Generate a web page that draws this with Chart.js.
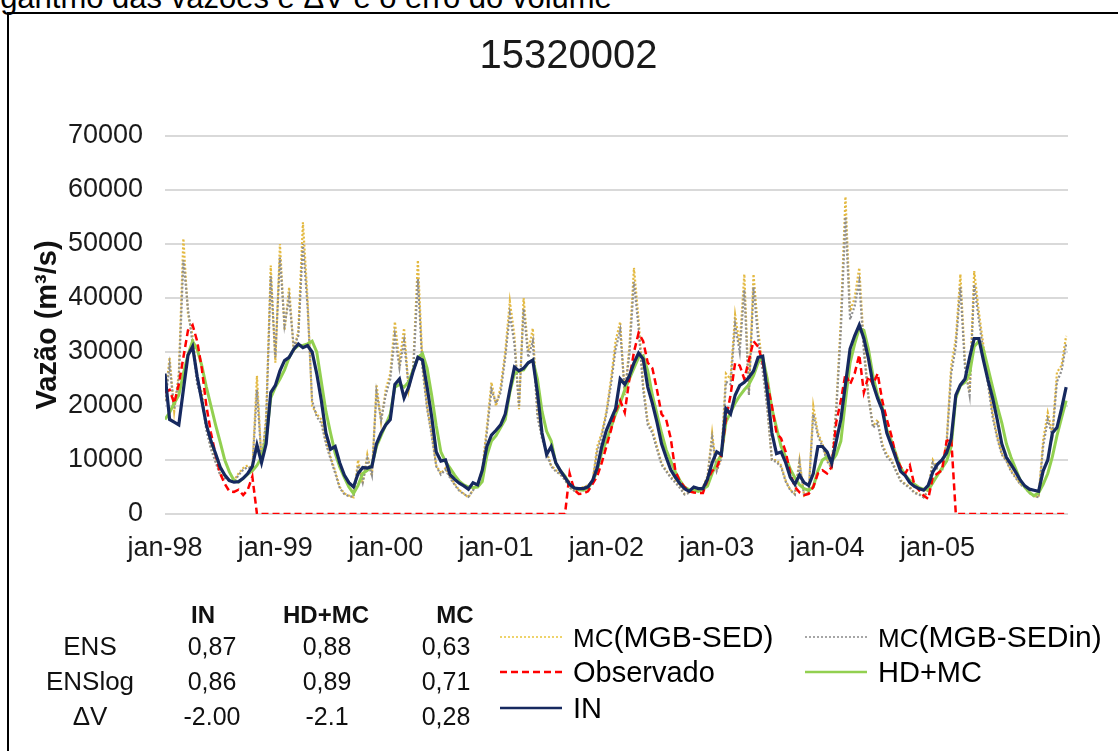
<!DOCTYPE html>
<html>
<head>
<meta charset="utf-8">
<script src="https://cdn.jsdelivr.net/npm/chart.js@4.4.1/dist/chart.umd.min.js"></script>
<style>
  html, body { margin: 0; padding: 0; background: #fff; overflow: hidden; }
  body { width: 1118px; height: 751px; position: relative; font-family: 'Liberation Sans', Arial, sans-serif; color: #111; }
  #c { position: absolute; left: 0; top: 0; }
  .frame { position: absolute; left: 7px; top: 12px; width: 1200px; height: 900px; border-left: 2px solid #000; border-top: 2px solid #000; }
  .caption { position: absolute; left: -24px; top: -18px; font-size: 31px; line-height: 1; white-space: nowrap; color: #000; }
  .t { position: absolute; transform: translate(-50%, -50%); line-height: 1; white-space: nowrap; }
  .lg { position: absolute; transform: translateY(-50%); line-height: 1; white-space: nowrap; font-size: 29px; color: #000; }
  .sw { position: absolute; }
</style>
</head>
<body>
<div class="caption">logaritmo das vazões e ΔV e o erro do volume</div>
<div class="frame"></div>
<canvas id="c" width="1118" height="751"></canvas>
<div id="overlay"></div>
<script>
// ---------------- DATA ----------------
const chartTitle = '15320002';
const yAxisTitle = 'Vazão (m³/s)';
// time step of the series: half a month, starting jan-1998
const stepMonths = 0.5;
const xTickMonths = [0, 12, 24, 36, 48, 60, 72, 84];
const xTickLabels = ['jan-98', 'jan-99', 'jan-00', 'jan-01', 'jan-02', 'jan-03', 'jan-04', 'jan-05'];

const mcSED = [
  21000, 29000, 19000, 26000, 51000, 37000, 33000, 25000, 22500, 16000,
  12500, 10000, 7500, 6900, 6300, 6250, 7500, 8500, 9000, 8500,
  25600, 9500, 18000, 46000, 28000, 50000, 34000, 42000, 30000, 34000,
  54000, 40000, 20000, 18500, 17500, 13500, 10600, 8000, 5000, 3800,
  3400, 3100, 10000, 5600, 11000, 7000, 24000, 17000, 23000, 26000,
  35600, 28000, 34400, 23000, 27500, 47000, 28000, 20000, 15000, 9000,
  7500, 8500, 6900, 5600, 4400, 3750, 3100, 4500, 5600, 8100,
  16000, 24400, 20000, 23500, 30000, 39400, 33000, 19400, 40000, 30000,
  34400, 18750, 14500, 11500, 9000, 8100, 7500, 6500, 5000, 4400,
  4700, 5000, 5300, 6200, 12500, 15000, 19000, 25000, 32000, 35600,
  22000, 31000, 45600, 36000, 24000, 17000, 15600, 12500, 9400, 8100,
  6900, 6000, 5000, 3700, 4000, 4700, 4400, 5000, 7000, 15000,
  8100, 10600, 26000, 25000, 36900, 31250, 44400, 22500, 44400, 34000,
  27500, 20000, 10000, 10000, 9000, 6200, 4500, 3700, 10000, 3400,
  4000, 20000, 15000, 13000, 10000, 8700, 20000, 36000, 58750, 37500,
  40000, 45600, 31250, 22000, 16250, 17500, 13000, 11000, 10000, 8100,
  6250, 5600, 5000, 4000, 3750, 3100, 4400, 10000, 8500, 8100,
  13500, 27500, 32500, 44400, 28000, 22500, 45000, 37500, 31250, 25000,
  18750, 14400, 11250, 10000, 8100, 6900, 5600, 5000, 4000, 3400,
  3100, 13750, 18750, 15000, 26250, 27500, 33000
];
const mcSEDin = [
  20500, 27500, 19500, 25000, 47000, 38000, 31500, 24000, 21500, 15500,
  12000, 9600, 7200, 6600, 6100, 6000, 7200, 8200, 8700, 8300,
  23000, 9800, 17000, 44000, 29000, 47500, 35000, 40000, 31000, 33000,
  50000, 38500, 21000, 18000, 16800, 13000, 10200, 7600, 4800, 3700,
  3300, 3200, 9000, 5800, 10200, 7200, 22500, 17500, 22000, 25000,
  33000, 27000, 32000, 23500, 26500, 43500, 27000, 19500, 14500, 8800,
  7300, 8200, 6700, 5400, 4300, 3700, 3200, 4400, 5500, 7800,
  15000, 23000, 20500, 22500, 29000, 37000, 31500, 20000, 38000, 29000,
  32000, 18000, 14000, 11200, 8800, 7900, 7300, 6300, 4900, 4300,
  4600, 4900, 5200, 6000, 11500, 14500, 18500, 24000, 30500, 34000,
  22500, 29500, 43000, 34500, 23000, 16500, 15000, 12000, 9100, 7900,
  6700, 5800, 4800, 3600, 3900, 4500, 4300, 4800, 6700, 14000,
  8000, 10200, 24500, 24000, 35000, 30000, 41500, 22000, 42000, 32500,
  26500, 19500, 10000, 9600, 8700, 6000, 4400, 3600, 9500, 3400,
  4000, 18500, 14500, 12500, 9800, 8500, 19000, 34000, 55000, 36000,
  38500, 43000, 30000, 21500, 16000, 16800, 12500, 10600, 9700, 7900,
  6100, 5400, 4800, 3900, 3600, 3100, 4300, 9500, 8300, 7900,
  13000, 26000, 31000, 42000, 27000, 22000, 42500, 36000, 30000, 24000,
  18000, 14000, 11000, 9800, 7900, 6700, 5500, 4900, 3900, 3300,
  3100, 12500, 17500, 14500, 24500, 26500, 31500
];
const observado = [
  22500, 23000, 20500, 24000, 29000, 34000, 35000, 32000, 27000, 20000,
  15000, 11000, 7500, 5600, 4200, 4100, 4500, 3500, 4500, 6900,
  0, 0, 0, 0, 0, 0, 0, 0, 0, 0,
  0, 0, 0, 0, 0, 0, 0, 0, 0, 0,
  0, 0, 0, 0, 0, 0, 0, 0, 0, 0,
  0, 0, 0, 0, 0, 0, 0, 0, 0, 0,
  0, 0, 0, 0, 0, 0, 0, 0, 0, 0,
  0, 0, 0, 0, 0, 0, 0, 0, 0, 0,
  0, 0, 0, 0, 0, 0, 0, 0, 7500, 4500,
  3700, 3800, 4200, 5600, 7000, 9500, 12500, 15500, 19000, 21000,
  18800, 25000, 30000, 33500, 32000, 28000, 27000, 23000, 18500, 17500,
  14000, 8000, 6000, 5000, 4200, 4000, 3900, 3900, 6300, 8000,
  8500, 11000, 17500, 22000, 28000, 27500, 25000, 28500, 32000, 31000,
  28000, 24000, 20000, 15000, 14000, 11500, 7500, 5000, 4000, 3500,
  3700, 5000, 7500, 8100, 7500, 8700, 17000, 21000, 26000, 24000,
  26000, 29500, 22500, 25500, 24000, 26000, 21000, 17500, 14500, 10500,
  8700, 7500, 9000, 5300, 4400, 3400, 2800, 6900, 7500, 8100,
  13500, 14000, 0, 0, 0, 0, 0, 0, 0, 0,
  0, 0, 0, 0, 0, 0, 0, 0, 0, 0,
  0, 0, 0, 0, 0, 0, 0
];
const hdmc = [
  17500, 18800, 20500, 22000, 26000, 29500, 32000, 30500, 27500, 23500,
  20000, 16500, 13300, 10000, 7800, 6200, 5900, 6600, 7400, 8000,
  9000, 10500, 14000, 21500, 23500, 25000, 26700, 29000, 30500, 31200,
  31200, 31500, 32000, 30000, 24500, 19000, 15000, 11300, 8700, 6800,
  5000, 3800, 5300, 7500, 8100, 9000, 12500, 14500, 16500, 18500,
  23500, 24000, 23500, 24500, 26700, 29000, 29700, 27000, 22000, 16300,
  11500, 9700, 8500, 7200, 6100, 5400, 5000, 4900, 5000, 6000,
  10800, 13500, 14500, 16000, 17500, 22500, 26000, 26500, 26700, 28000,
  28500, 25000, 19000, 15300, 13500, 9400, 8000, 7000, 5500, 4900,
  4500, 4400, 4800, 6000, 8000, 11500, 13500, 16000, 18500, 20500,
  23000, 25000, 27000, 29000, 29300, 26500, 22000, 18500, 15000, 11900,
  9800, 7800, 6200, 5000, 4500, 4400, 4200, 4600, 5200, 7500,
  9500, 11000, 17000, 18800, 20500, 21900, 23000, 24000, 25600, 28000,
  29000, 25000, 19500, 16000, 12500, 10600, 8300, 6700, 5400, 4700,
  4400, 5000, 8000, 10000, 10600, 9700, 11000, 13500, 21000, 28000,
  31500, 34400, 34000, 30500, 25500, 22000, 19800, 15600, 13500, 11000,
  8600, 7200, 6200, 5500, 4900, 4600, 4400, 5800, 7200, 8500,
  9800, 12500, 21500, 23800, 24400, 26000, 31000, 32000, 30500, 27000,
  23500, 20000, 16900, 13000, 10500, 8400, 6300, 5000, 4000, 3400,
  3900, 5500, 7500, 10600, 14500, 17800, 21000
];
const inSeries = [
  26000, 17500, 17000, 16500, 23000, 29400, 31000, 25500, 21000, 16500,
  13500, 11200, 8700, 7200, 6200, 5900, 6000, 6600, 7500, 8800,
  12800, 9500, 13000, 22500, 23800, 26500, 28400, 29000, 30500, 31500,
  30800, 31200, 30000, 26000, 21000, 15000, 12000, 12500, 9500, 7200,
  5800, 5000, 7500, 8600, 8500, 8800, 13000, 15000, 16500, 17500,
  24000, 25000, 21500, 23500, 26500, 29000, 28500, 23500, 18000, 11500,
  9800, 10000, 7300, 6400, 5700, 5200, 4600, 5800, 5400, 8100,
  12500, 14600, 15500, 16500, 18500, 23000, 27200, 26500, 27000, 28000,
  28500, 22500, 15000, 11000, 12500, 9500, 8000, 6800, 5500, 4800,
  4700, 4700, 5000, 6200, 8500, 12500, 15500, 17500, 19500, 25000,
  24000, 25600, 28000, 29800, 28700, 23500, 20500, 17000, 13000, 10500,
  8200, 6800, 5600, 4700, 4200, 5000, 4700, 4700, 6500, 9500,
  11500, 11000, 19500, 18500, 22000, 23800, 24400, 25300, 26500, 29000,
  29200, 22500, 15000, 11200, 11500, 9500, 6800, 5500, 7200, 5800,
  5300, 7500, 12500, 12500, 11500, 9400, 13500, 17500, 24000, 30600,
  33000, 35000, 32500, 28750, 24000, 21400, 19300, 15000, 12700, 10300,
  7900, 7100, 5800, 5100, 4700, 4400, 5300, 7800, 9200, 10000,
  11300, 14000, 22000, 23900, 25000, 29000, 32500, 32500, 28500, 24800,
  21500, 17500, 13000, 10500, 9200, 7800, 6300, 5200, 4600, 4400,
  4200, 8000, 10000, 15000, 16000, 19500, 23500
];

// statistics table
const tableColumns = ['IN', 'HD+MC', 'MC'];
const tableRows = ['ENS', 'ENSlog', 'ΔV'];
const tableValues = [
  ['0,87', '0,88', '0,63'],
  ['0,86', '0,89', '0,71'],
  ['-2.00', '-2.1', '0,28']
];

// series names (legend)
const seriesNames = ['MC(MGB-SED)', 'MC(MGB-SEDin)', 'Observado', 'HD+MC', 'IN'];

// ---------------- CHART ----------------
const FONT = "'Liberation Sans', Arial, sans-serif";
Chart.defaults.font.family = FONT;
const toXY = arr => arr.map((v, i) => ({ x: i * stepMonths, y: v }));

const styles = [
  { color: '#e3b941', width: 2.2, dash: [2, 2], offset: 0, order: 4, legendColor: '#eed36a' },
  { color: '#8e8e8e', width: 2.2, dash: [2, 2], offset: 2, order: 3, legendColor: '#a6a6a6' },
  { color: '#ff0000', width: 2.5, dash: [7, 4], offset: 0, order: 1, legendColor: '#ff0000' },
  { color: '#92d050', width: 3, dash: [], offset: 0, order: 2, legendColor: '#92d050' },
  { color: '#16295f', width: 3.2, dash: [], offset: 0, order: 0, legendColor: '#16295f' }
];
const seriesData = [mcSED, mcSEDin, observado, hdmc, inSeries];

const datasets = seriesData.map((d, i) => ({
  label: seriesNames[i],
  data: toXY(d),
  borderColor: styles[i].color,
  backgroundColor: styles[i].color,
  borderWidth: styles[i].width,
  borderDash: styles[i].dash,
  borderDashOffset: styles[i].offset,
  pointRadius: 0,
  tension: 0,
  fill: false,
  order: styles[i].order
}));

new Chart(document.getElementById('c'), {
  type: 'line',
  data: { datasets },
  options: {
    responsive: false,
    animation: false,
    devicePixelRatio: 1,
    events: [],
    layout: { padding: { top: 33, left: 69, right: 50, bottom: 187 } },
    plugins: {
      legend: { display: false },
      tooltip: { enabled: false },
      title: {
        display: true,
        text: chartTitle,
        color: '#1a1a1a',
        font: { size: 40, weight: 'normal', family: FONT },
        padding: { top: 0, bottom: 55 }
      }
    },
    scales: {
      x: {
        type: 'linear',
        min: 0,
        max: 98.2,
        grid: { display: false, drawTicks: false },
        border: { display: false },
        afterBuildTicks: s => { s.ticks = xTickMonths.map(v => ({ value: v })); },
        ticks: {
          autoSkip: false,
          maxRotation: 0,
          padding: 18,
          color: '#1a1a1a',
          font: { size: 27, family: FONT },
          callback: v => { const i = xTickMonths.indexOf(v); return i >= 0 ? xTickLabels[i] : ''; }
        },
        afterFit: s => { s.height = 50; }
      },
      y: {
        min: 0,
        max: 70000,
        grid: { color: '#d9d9d9', lineWidth: 2, drawTicks: false },
        border: { display: false },
        ticks: {
          stepSize: 10000,
          padding: 22,
          color: '#1a1a1a',
          font: { size: 27, family: FONT },
          callback: v => String(v)
        },
        title: {
          display: true,
          text: yAxisTitle,
          color: '#111',
          font: { size: 29, weight: 'bold', family: FONT },
          padding: { top: -38, bottom: 0 }
        },
        afterFit: s => { s.width = 96; }
      }
    }
  }
});

// ---------------- TABLE + LEGEND (HTML) ----------------
const ov = document.getElementById('overlay');
function txt(html, x, y, css) {
  const d = document.createElement('div');
  d.className = 't';
  d.style.left = x + 'px';
  d.style.top = y + 'px';
  d.style.cssText += css;
  d.innerHTML = html;
  ov.appendChild(d);
}
const headerX = [203, 326, 455];
const valueX = [212, 327, 446];
const headerY = 615;
const rowY = [646, 681, 716];
const rowLabelX = 90;
tableColumns.forEach((c, j) => txt(c, headerX[j], headerY, 'font-size:24px;font-weight:bold;color:#111;'));
tableRows.forEach((r, i) => {
  txt(r, rowLabelX, rowY[i], 'font-size:26px;color:#111;');
  tableValues[i].forEach((v, j) => txt(v, valueX[j], rowY[i], 'font-size:25px;color:#111;'));
});

const legendSlots = [
  { s: 0, x: 500, y: 637 }, { s: 1, x: 805, y: 637 },
  { s: 2, x: 500, y: 672 }, { s: 3, x: 805, y: 672 },
  { s: 4, x: 500, y: 708 }
];
legendSlots.forEach(slot => {
  const st = styles[slot.s];
  const svgNS = 'http://www.w3.org/2000/svg';
  const svg = document.createElementNS(svgNS, 'svg');
  svg.setAttribute('width', 62); svg.setAttribute('height', 8);
  svg.setAttribute('class', 'sw');
  svg.style.left = slot.x + 'px';
  svg.style.top = (slot.y - 4) + 'px';
  const ln = document.createElementNS(svgNS, 'line');
  ln.setAttribute('x1', 0); ln.setAttribute('x2', 62);
  ln.setAttribute('y1', 4); ln.setAttribute('y2', 4);
  ln.setAttribute('stroke', st.legendColor);
  ln.setAttribute('stroke-width', Math.min(st.width, 2.5));
  if (st.dash.length) ln.setAttribute('stroke-dasharray', st.dash.join(' '));
  svg.appendChild(ln);
  ov.appendChild(svg);
  const name = seriesNames[slot.s];
  const d = document.createElement('div');
  d.className = 'lg';
  d.style.left = (slot.x + 73) + 'px';
  d.style.top = slot.y + 'px';
  d.innerHTML = name.startsWith('MC(')
    ? '<span style="font-size:26px">MC</span><span style="font-size:30px">' + name.slice(2) + '</span>'
    : name;
  ov.appendChild(d);
});
</script>
</body>
</html>
